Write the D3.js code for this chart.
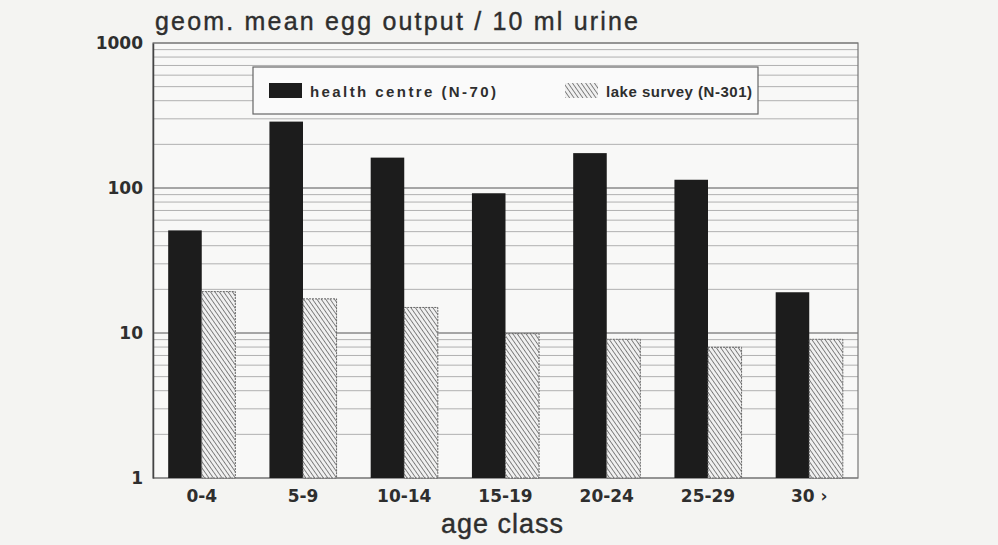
<!DOCTYPE html>
<html>
<head>
<meta charset="utf-8">
<script src="https://cdnjs.cloudflare.com/ajax/libs/d3/7.8.5/d3.min.js"></script>
<style>
  body { margin: 0; background: #f4f4f2; }
  svg { display: block; }
  text { font-family: "DejaVu Sans", "Liberation Sans", Arial, sans-serif; fill: #2e2e2e; }
  .helv { font-family: "Liberation Sans", Arial, sans-serif; }
</style>
</head>
<body>
<div id="chart"></div>
<script>
// data
var ageClasses = ["0-4", "5-9", "10-14", "15-19", "20-24", "25-29", "30 \u203a"];
var healthCentre = [51, 287, 162, 92, 174, 114, 19.1];
var lakeSurvey = [19.3, 17.2, 15, 9.9, 9.05, 7.97, 9.05];
var seriesNames = ["health centre (N-70)", "lake survey (N-301)"];
var yTicks = [1, 10, 100, 1000];

var width = 998, height = 545;
var margin = { top: 43, right: 140, bottom: 67, left: 153 };

var svg = d3.select("#chart").append("svg")
  .attr("width", width)
  .attr("height", height);

// hatch pattern for the lake survey bars
var defs = svg.append("defs");
var pat = defs.append("pattern")
  .attr("id", "hatch")
  .attr("patternUnits", "userSpaceOnUse")
  .attr("width", 3.6).attr("height", 3.6)
  .attr("patternTransform", "rotate(-35)");
pat.append("rect").attr("width", 3.6).attr("height", 3.6).attr("fill", "#f0f0f0");
pat.append("line")
  .attr("x1", 0).attr("y1", 0).attr("x2", 0).attr("y2", 3.6)
  .attr("stroke", "#4a4a4a").attr("stroke-width", 1.3);

var x0 = d3.scaleBand()
  .domain(ageClasses)
  .range([margin.left, width - margin.right])
  .paddingInner(0.337)
  .paddingOuter(0.15);

var x1 = d3.scaleBand()
  .domain([0, 1])
  .range([0, x0.bandwidth()]);

var y = d3.scaleLog()
  .domain([1, 1000])
  .range([height - margin.bottom, margin.top]);

// plot background
svg.append("rect")
  .attr("x", margin.left).attr("y", margin.top)
  .attr("width", width - margin.right - margin.left)
  .attr("height", height - margin.bottom - margin.top)
  .attr("fill", "#f8f8f7");

// gridlines at every minor tick
var minor = [];
[1, 10, 100].forEach(function(p) {
  for (var k = 1; k <= 10; k++) minor.push(p * k);
});
svg.append("g").selectAll("line")
  .data(minor)
  .enter().append("line")
  .attr("x1", margin.left).attr("x2", width - margin.right)
  .attr("y1", function(d) { return y(d); })
  .attr("y2", function(d) { return y(d); })
  .attr("stroke", function(d) { return yTicks.indexOf(d) >= 0 ? "#8a8a8a" : "#b0b0b0"; })
  .attr("stroke-width", 1);

// frame
svg.append("rect")
  .attr("x", margin.left).attr("y", margin.top)
  .attr("width", width - margin.right - margin.left)
  .attr("height", height - margin.bottom - margin.top)
  .attr("fill", "none")
  .attr("stroke", "#777")
  .attr("stroke-width", 1.2);

// bars
var groups = svg.append("g").selectAll("g")
  .data(ageClasses)
  .enter().append("g")
  .attr("transform", function(d) { return "translate(" + x0(d) + ",0)"; });

groups.append("rect")
  .attr("x", x1(0))
  .attr("width", x1.bandwidth())
  .attr("y", function(d, i) { return y(healthCentre[i]); })
  .attr("height", function(d, i) { return y(1) - y(healthCentre[i]); })
  .attr("fill", "#1c1c1c");

groups.append("rect")
  .attr("x", x1(1))
  .attr("width", x1.bandwidth())
  .attr("y", function(d, i) { return y(lakeSurvey[i]); })
  .attr("height", function(d, i) { return y(1) - y(lakeSurvey[i]); })
  .attr("fill", "url(#hatch)")
  .attr("stroke", "#666")
  .attr("stroke-width", 1)
  .attr("stroke-dasharray", "2,1");

// y axis
var yAxis = svg.append("g")
  .attr("transform", "translate(" + margin.left + ",0)")
  .call(d3.axisLeft(y).tickValues(yTicks).tickFormat(d3.format("d")).tickSize(0).tickPadding(10));
yAxis.select(".domain").attr("stroke", "#444").attr("stroke-width", 1.5);
yAxis.selectAll("text")
  .style("font-size", "17px")
  .style("font-weight", "bold")
  .attr("fill", "#2e2e2e");

// x axis labels
var xAxis = svg.append("g")
  .attr("transform", "translate(0," + (height - margin.bottom) + ")")
  .call(d3.axisBottom(x0).tickSize(0).tickPadding(12));
xAxis.select(".domain").remove();
xAxis.selectAll("text")
  .style("font-size", "17px")
  .style("font-weight", "bold")
  .attr("fill", "#2e2e2e");

// titles
svg.append("text")
  .attr("class", "helv")
  .attr("x", 155).attr("y", 30)
  .attr("textLength", 483)
  .attr("lengthAdjust", "spacing")
  .attr("stroke", "#2e2e2e").attr("stroke-width", 0.4)
  .style("font-size", "25px")
  .text("geom. mean egg output / 10 ml urine");

svg.append("text")
  .attr("class", "helv")
  .attr("x", 441).attr("y", 533)
  .attr("textLength", 122)
  .attr("lengthAdjust", "spacing")
  .attr("stroke", "#2e2e2e").attr("stroke-width", 0.4)
  .style("font-size", "27px")
  .text("age class");

// legend
var legend = svg.append("g").attr("transform", "translate(253,67)");
legend.append("rect")
  .attr("width", 505).attr("height", 47)
  .attr("fill", "#fafafa")
  .attr("stroke", "#666")
  .attr("stroke-width", 1.2);

var legendX = [16, 312];
var legendFill = ["#1c1c1c", "url(#hatch)"];
var legendLen = [186, 146];
seriesNames.forEach(function(name, i) {
  legend.append("rect")
    .attr("x", legendX[i]).attr("y", 16)
    .attr("width", 33).attr("height", 15)
    .attr("fill", legendFill[i]);
  legend.append("text")
    .attr("class", "helv")
    .attr("x", legendX[i] + 41).attr("y", 30)
    .attr("textLength", legendLen[i])
    .attr("lengthAdjust", "spacing")
    .style("font-size", "15px")
    .style("font-weight", "bold")
    .text(name);
});
</script>
</body>
</html>
